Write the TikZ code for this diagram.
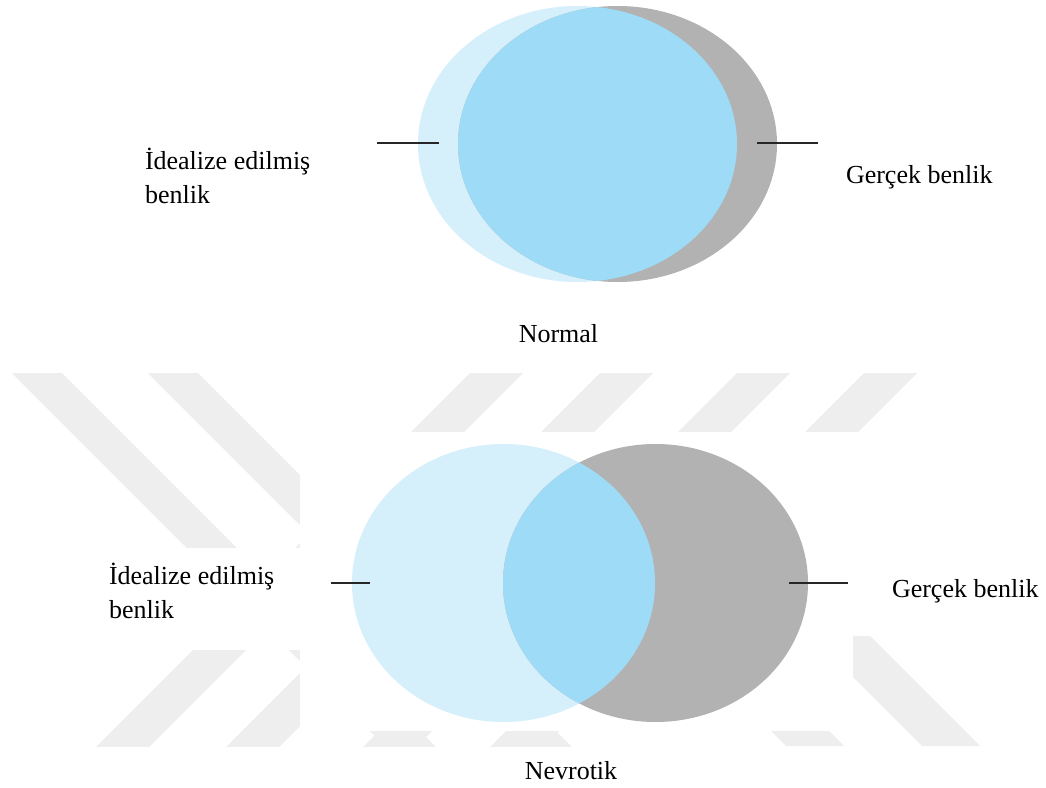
\documentclass[tikz,border=0pt]{standalone}
\usepackage{fontspec}
\setmainfont{Liberation Serif}
\definecolor{idealblue}{HTML}{D5EFFB}
\definecolor{realgray}{HTML}{B2B2B2}
\definecolor{overlapblue}{HTML}{9EDBF7}
\definecolor{wmgray}{HTML}{EEEEEE}
\begin{document}
\begin{tikzpicture}[x=1pt,y=-1pt,
  lbl/.style={inner sep=0pt, outer sep=0pt, font=\fontsize{26}{33.5}\selectfont},
  leader/.style={line width=1.5pt, draw=black!85},
  wm/.style={fill=wmgray, draw=none},
  blank/.style={fill=white, draw=none}]
\useasboundingbox (0,0) rectangle (1046,787);
\fill[white] (0,0) rectangle (1046,787);

% faint striped background band
\begin{scope}
  \clip (0,373) rectangle (1046,746);
  \foreach \x in {470,600,737,864}
    \fill[wm] (\x,373) -- ++(53,0) -- ++(-400,400) -- ++(-53,0) -- cycle;
  \foreach \x in {12,148}
    \fill[wm] (\x,373) -- ++(50,0) -- ++(400,400) -- ++(-50,0) -- cycle;
  \foreach \x in {786,922}
    \fill[wm] (\x,746) -- ++(58,0) -- ++(-250,-250) -- ++(-58,0) -- cycle;
\end{scope}
\fill[blank] (300,432) rectangle (853,731);
\fill[blank] (0,548) rectangle (300,650);
\fill[blank] (853,432) rectangle (1046,636);

% ---------- Normal ----------
\coordinate (nI) at (577.5,144);
\coordinate (nR) at (617.5,144);
\fill[idealblue] (nI) ellipse [x radius=159.5pt, y radius=138pt];
\fill[realgray] (nR) ellipse [x radius=159.5pt, y radius=138pt];
\begin{scope}
  \clip (nI) ellipse [x radius=159.5pt, y radius=138pt];
  \fill[overlapblue] (nR) ellipse [x radius=159.5pt, y radius=138pt];
\end{scope}
\coordinate (nLa) at (377,143);
\coordinate (nLb) at (439,143);
\coordinate (nRa) at (757,143);
\coordinate (nRb) at (818,143);
\draw[leader] (nLa) -- (nLb);
\draw[leader] (nRa) -- (nRb);
\node[lbl, anchor=base west, align=left] (nIdeal) at (145,203) {İdealize edilmiş\\benlik};
\node[lbl, anchor=base west] (nReal) at (846,183) {Gerçek benlik};
\node[lbl, anchor=base] (nTitle) at (558.5,342) {Normal};

% ---------- Nevrotik ----------
\coordinate (vI) at (503.5,583);
\coordinate (vR) at (655.5,583);
\fill[idealblue] (vI) ellipse [x radius=151.5pt, y radius=139pt];
\fill[realgray] (vR) ellipse [x radius=152.5pt, y radius=139pt];
\begin{scope}
  \clip (vI) ellipse [x radius=151.5pt, y radius=139pt];
  \fill[overlapblue] (vR) ellipse [x radius=152.5pt, y radius=139pt];
\end{scope}
\coordinate (vLa) at (331,583);
\coordinate (vLb) at (370,583);
\coordinate (vRa) at (789,583);
\coordinate (vRb) at (848,583);
\draw[leader] (vLa) -- (vLb);
\draw[leader] (vRa) -- (vRb);
\node[lbl, anchor=base west, align=left] (vIdeal) at (109,618) {İdealize edilmiş\\benlik};
\node[lbl, anchor=base west] (vReal) at (892,597) {Gerçek benlik};
\node[lbl, anchor=base] (vTitle) at (571,779) {Nevrotik};
\end{tikzpicture}
\end{document}
